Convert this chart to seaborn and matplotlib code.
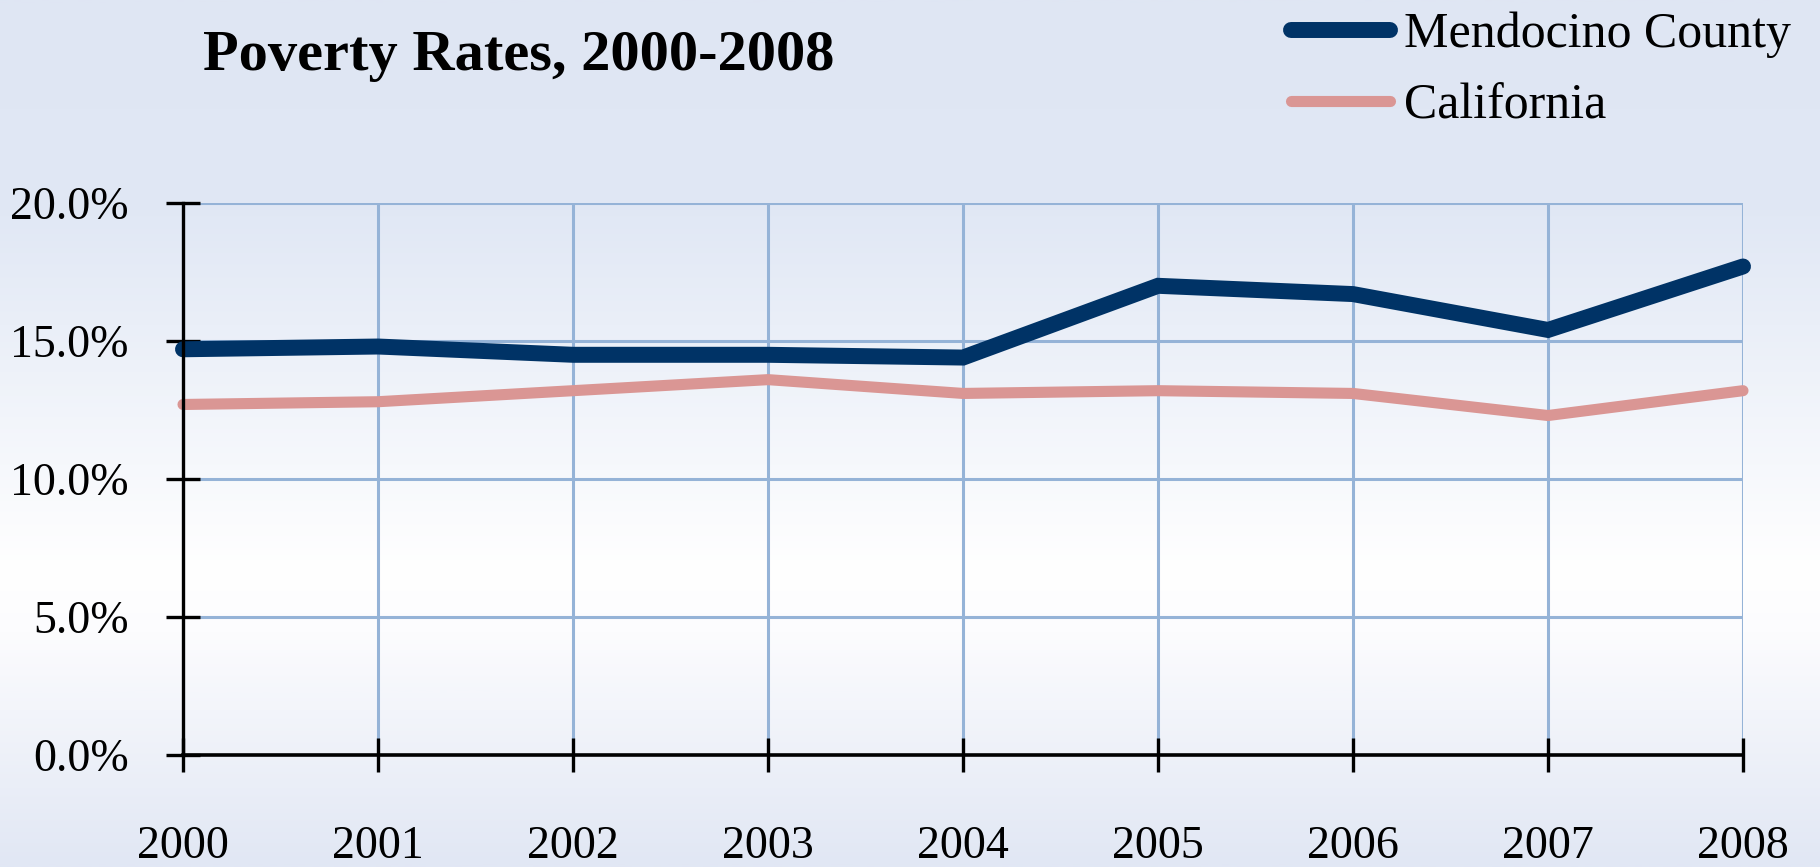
import numpy as np
import pandas as pd
import matplotlib
matplotlib.use("Agg")
import matplotlib.pyplot as plt
from matplotlib.colors import LinearSegmentedColormap
import seaborn as sns

# ---- data ----
years = [2000, 2001, 2002, 2003, 2004, 2005, 2006, 2007, 2008]
mendocino = [14.7, 14.8, 14.5, 14.5, 14.4, 17.0, 16.7, 15.4, 17.7]
california = [12.7, 12.8, 13.2, 13.6, 13.1, 13.2, 13.1, 12.3, 13.2]
series_names = ["Mendocino County", "California"]
ytick_values = [0, 5, 10, 15, 20]
ytick_labels = ["0.0%", "5.0%", "10.0%", "15.0%", "20.0%"]
xtick_labels = [str(y) for y in years]
title = "Poverty Rates, 2000-2008"

df = pd.DataFrame({
    "year": years * 2,
    "rate": mendocino + california,
    "series": [series_names[0]] * len(years) + [series_names[1]] * len(years),
})

sns.set_theme(style="white")
plt.rcParams["font.family"] = ["Liberation Serif", "DejaVu Serif"]
plt.rcParams["text.color"] = "black"
plt.rcParams["xtick.color"] = "black"
plt.rcParams["ytick.color"] = "black"

W, H = 1820, 867
fig = plt.figure(figsize=(W / 100, H / 100), dpi=100)

# background gradient
bg = fig.add_axes([0, 0, 1, 1], zorder=-10)
cmap = LinearSegmentedColormap.from_list("bg", [
    (0.00, (223/255, 230/255, 243/255)),
    (0.25, (225/255, 232/255, 245/255)),
    (0.66, (1.0, 1.0, 1.0)),
    (0.73, (252/255, 252/255, 254/255)),
    (1.00, (225/255, 231/255, 244/255)),
])
grad = np.linspace(0, 1, 400).reshape(-1, 1)
bg.imshow(grad, aspect="auto", cmap=cmap, extent=[0, 1, 0, 1], origin="upper")
bg.set_axis_off()

left = 183 / W
right = 1743 / W
bottom = (H - 755) / H
top = (H - 203) / H
ax = fig.add_axes([left, bottom, right - left, top - bottom])
ax.set_facecolor("none")

colors = {series_names[0]: "#003366", series_names[1]: "#DA9694"}
widths = {series_names[0]: 11.5, series_names[1]: 8.0}

for name in [series_names[1], series_names[0]]:
    sub = df[df["series"] == name]
    sns.lineplot(data=sub, x="year", y="rate", ax=ax, color=colors[name],
                 linewidth=widths[name], label=name, legend=False,
                 solid_capstyle="round", solid_joinstyle="miter", clip_on=False,
                 zorder=3)

ax.set_xlim(years[0], years[-1])
ax.set_ylim(0, 20)
ax.set_xticks(years)
ax.set_xticklabels(xtick_labels)
ax.set_yticks(ytick_values)
ax.set_yticklabels(ytick_labels)
ax.set_xlabel("")
ax.set_ylabel("")

ax.set_axisbelow(True)
ax.grid(True, color="#95B3D7", linewidth=2.2)

for s in ["top", "right"]:
    ax.spines[s].set_visible(False)
ax.spines["left"].set_color("black")
ax.spines["left"].set_linewidth(2.4)
ax.spines["bottom"].set_color("black")
ax.spines["bottom"].set_linewidth(2.6)
ax.spines["left"].set_zorder(4)
ax.spines["bottom"].set_zorder(4)

ax.tick_params(axis="both", which="major", direction="inout", length=24,
               width=2.4, color="black", labelsize=33, labelcolor="black",
               bottom=True, left=True, top=False, right=False)
ax.tick_params(axis="y", pad=27)
ax.tick_params(axis="x", pad=39)

# title
fig.text(203 / W, 1 - 70 / H, title, fontsize=42, fontweight="bold",
         ha="left", va="baseline", color="black")

# legend (order: Mendocino first)
handles, labels = ax.get_legend_handles_labels()
order = [labels.index(n) for n in series_names]
leg = fig.legend([handles[i] for i in order], [labels[i] for i in order],
                 loc="upper left", bbox_to_anchor=(1291 / W, 1 - 12 / H),
                 bbox_transform=fig.transFigure, frameon=False, fontsize=36,
                 handlelength=1.98, handletextpad=0.27, borderpad=0,
                 borderaxespad=0, labelspacing=0.49)
for line in leg.get_lines():
    line.set_solid_capstyle("round")
for t in leg.get_texts():
    t.set_color("black")

fig.savefig("out.png", dpi=100)
